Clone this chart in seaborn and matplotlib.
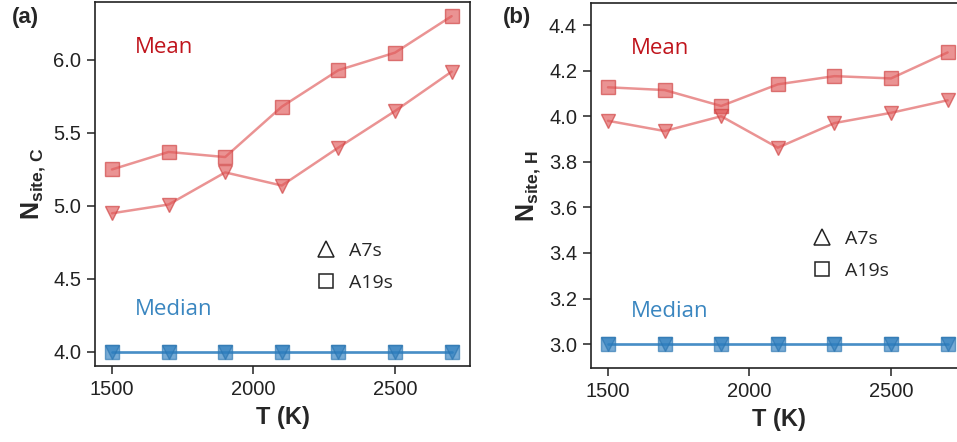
import numpy as np
import pandas as pd
import matplotlib
matplotlib.use("Agg")
import matplotlib.pyplot as plt
from matplotlib.lines import Line2D
import seaborn as sns

T = [1500, 1700, 1900, 2100, 2300, 2500, 2700]

# Panel (a): N_site,C
c_mean_a19s = [5.25, 5.37, 5.335, 5.68, 5.93, 6.05, 6.30]
c_mean_a7s = [4.95, 5.01, 5.23, 5.14, 5.40, 5.65, 5.92]
c_median_a19s = [4.0, 4.0, 4.0, 4.0, 4.0, 4.0, 4.0]
c_median_a7s = [4.0, 4.0, 4.0, 4.0, 4.0, 4.0, 4.0]

# Panel (b): N_site,H
h_mean_a19s = [4.127, 4.115, 4.045, 4.14, 4.176, 4.166, 4.28]
h_mean_a7s = [3.98, 3.935, 4.0, 3.862, 3.97, 4.015, 4.07]
h_median_a19s = [3.0, 3.0, 3.0, 3.0, 3.0, 3.0, 3.0]
h_median_a7s = [3.0, 3.0, 3.0, 3.0, 3.0, 3.0, 3.0]

sns.set_theme(style="ticks")
plt.rcParams['font.family'] = ['Liberation Sans', 'DejaVu Sans']
plt.rcParams['font.sans-serif'] = ['Liberation Sans', 'DejaVu Sans']
plt.rcParams['mathtext.fontset'] = 'custom'
plt.rcParams['mathtext.rm'] = 'Liberation Sans'
plt.rcParams['mathtext.bf'] = 'Liberation Sans:bold'
plt.rcParams['mathtext.it'] = 'Liberation Sans:italic'

RED = '#e05a5a'
RED_EDGE = '#cf3d3d'
BLUE = '#2f7fbf'
BLUE_EDGE = '#2a74b0'
W, H = 957, 442
fig = plt.figure(figsize=(W / 100, H / 100), dpi=100)

def ax_rect(l, t, r, b):
    return [l / W, 1 - b / H, (r - l) / W, (b - t) / H]

ax_a = fig.add_axes(ax_rect(95, 2, 470, 366))
ax_b = fig.add_axes(ax_rect(591, 3, 966, 368))

def draw(ax, series):
    for vals, marker, color, edge in series:
        df = pd.DataFrame({'T': T, 'v': vals})
        sns.lineplot(data=df, x='T', y='v', ax=ax, color=color, marker=marker,
                     markersize=10.5, linewidth=1.8, alpha=0.65,
                     markeredgecolor=edge, markeredgewidth=1.0)

draw(ax_a, [(c_mean_a19s, 's', RED, RED_EDGE), (c_mean_a7s, 'v', RED, RED_EDGE),
            (c_median_a19s, 's', BLUE, BLUE_EDGE), (c_median_a7s, 'v', BLUE, BLUE_EDGE)])
draw(ax_b, [(h_mean_a19s, 's', RED, RED_EDGE), (h_mean_a7s, 'v', RED, RED_EDGE),
            (h_median_a19s, 's', BLUE, BLUE_EDGE), (h_median_a7s, 'v', BLUE, BLUE_EDGE)])

ax_a.set_xlim(1440, 2765)
ax_a.set_ylim(3.904, 6.397)
ax_a.set_yticks([4.0, 4.5, 5.0, 5.5, 6.0])
ax_b.set_xlim(1440, 2765)
ax_b.set_ylim(2.895, 4.497)
ax_b.set_yticks([3.0, 3.2, 3.4, 3.6, 3.8, 4.0, 4.2, 4.4])

for ax, ylab, ly in [(ax_a, r'$\mathbf{N_{site,\,C}}$', 0.272),
                     (ax_b, r'$\mathbf{N_{site,\,H}}$', 0.31)]:
    ax.set_xticks([1500, 2000, 2500])
    ax.tick_params(axis='both', labelsize=14.5, length=6, width=1.1, direction='out',
                   colors='#222222', pad=4)
    ax.set_xlabel('T (K)', fontsize=17, fontweight='bold', labelpad=5)
    ax.set_ylabel(ylab, fontsize=18, labelpad=4)
    for s in ax.spines.values():
        s.set_linewidth(1.2)
        s.set_color('#222222')
    ax.text(0.107, 0.875, 'Mean', transform=ax.transAxes, color='#c0141c',
            fontsize=16, family=['Open Sans', 'DejaVu Sans'], va='center')
    ax.text(0.107, 0.155, 'Median', transform=ax.transAxes, color='#3a86c0',
            fontsize=16, family=['Open Sans', 'DejaVu Sans'], va='center')
    handles = [Line2D([], [], linestyle='none', marker='^', markersize=11,
                      markerfacecolor='none', markeredgecolor='#222222', markeredgewidth=1.1,
                      label='A7s'),
               Line2D([], [], linestyle='none', marker='s', markersize=10,
                      markerfacecolor='none', markeredgecolor='#222222', markeredgewidth=1.1,
                      label='A19s')]
    ax.legend(handles=handles, loc='center', bbox_to_anchor=(0.69, ly),
              frameon=False, prop={'family': ['Open Sans', 'DejaVu Sans'], 'size': 14},
              handletextpad=0.55, labelspacing=0.75, handlelength=1.2)

fig.text(12 / W, 1 - 17 / H, '(a)', fontsize=16, fontweight='bold', va='center')
fig.text(503 / W, 1 - 17 / H, '(b)', fontsize=16, fontweight='bold', va='center')

fig.savefig('out.png', dpi=100)
